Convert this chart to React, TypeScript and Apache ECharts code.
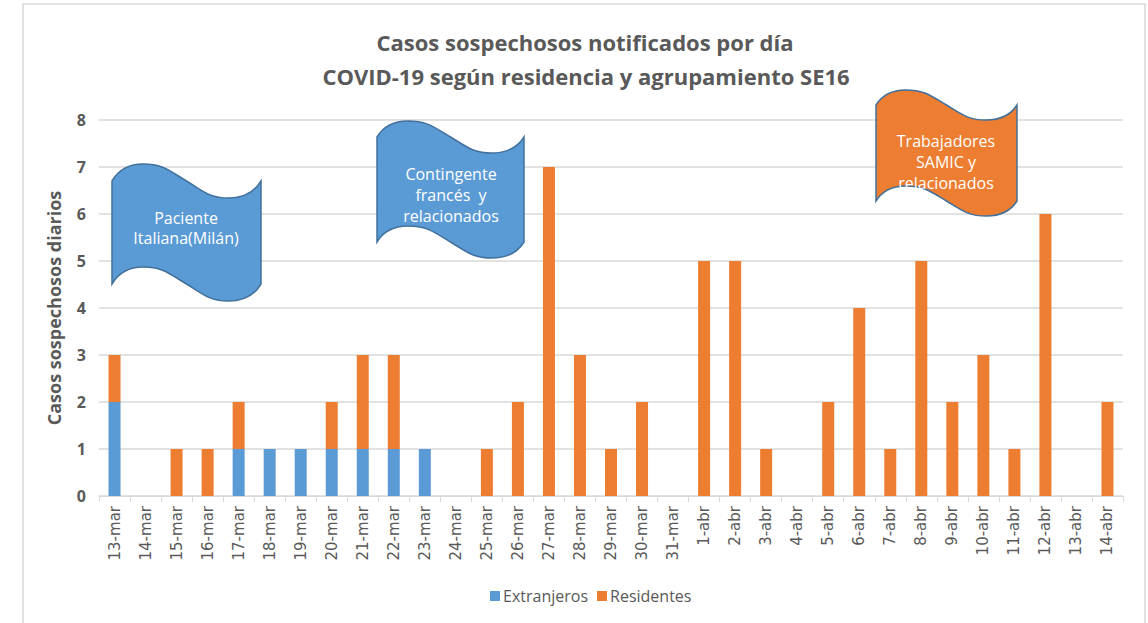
import React, { useEffect, useRef } from "react";
import * as echarts from "echarts";

const categories = [
  "13-mar", "14-mar", "15-mar", "16-mar", "17-mar", "18-mar", "19-mar", "20-mar", "21-mar", "22-mar",
  "23-mar", "24-mar", "25-mar", "26-mar", "27-mar", "28-mar", "29-mar", "30-mar", "31-mar",
  "1-abr", "2-abr", "3-abr", "4-abr", "5-abr", "6-abr", "7-abr", "8-abr", "9-abr", "10-abr",
  "11-abr", "12-abr", "13-abr", "14-abr",
];
const extranjeros = [2, 0, 0, 0, 1, 1, 1, 1, 1, 1, 1, 0, 0, 0, 0, 0, 0, 0, 0, 0, 0, 0, 0, 0, 0, 0, 0, 0, 0, 0, 0, 0, 0];
const residentes = [1, 0, 1, 1, 1, 0, 0, 1, 2, 2, 0, 0, 1, 2, 7, 3, 1, 2, 0, 5, 5, 1, 0, 2, 4, 1, 5, 2, 3, 1, 6, 0, 2];
const yTicks = [0, 1, 2, 3, 4, 5, 6, 7, 8];

const titleLine1 = "Casos sospechosos notificados por día";
const titleLine2 = "COVID-19 según residencia y agrupamiento SE16";
const yAxisName = "Casos sospechosos diarios";
const noteTexts = ["Paciente\nItaliana(Milán)", "Contingente\nfrancés  y\nrelacionados", "Trabajadores\nSAMIC y\nrelacionados"];

type P = [number, number];
type Seg = [P, P, P, P];

function waveSegs(x0: number, y0: number, w: number, a: number): Seg[] {
  const x1 = x0 + w;
  const xp = x0 + 0.21 * w;
  const xt = x0 + 0.78 * w;
  const m = x0 + 0.5 * w;
  const s = 0.6;
  const q1 = 0.4 * (m - xp);
  const q2 = 0.4 * (xt - m);
  return [
    [[x0, y0], [x0 + 0.04 * w, y0 - 0.6 * a], [xp - 0.5 * (xp - x0), y0 - a], [xp, y0 - a]],
    [[xp, y0 - a], [xp + 0.45 * (m - xp), y0 - a], [m - q1, y0 - q1 * s], [m, y0]],
    [[m, y0], [m + q2, y0 + q2 * s], [xt - 0.45 * (xt - m), y0 + a], [xt, y0 + a]],
    [[xt, y0 + a], [xt + 0.5 * (x1 - xt), y0 + a], [x1 - 0.04 * w, y0 + 0.6 * a], [x1, y0]],
  ];
}

function tapePath(x0: number, y0: number, w: number, h: number, a: number) {
  const top = waveSegs(x0, y0, w, a);
  const bottom = waveSegs(x0, y0 + h, w, a)
    .reverse()
    .map((sg) => [sg[3], sg[2], sg[1], sg[0]] as Seg);
  const c = (sg: Seg) => `C${sg[1][0]},${sg[1][1]} ${sg[2][0]},${sg[2][1]} ${sg[3][0]},${sg[3][1]}`;
  return [
    `M${x0},${y0}`,
    ...top.map(c),
    `L${x0 + w},${y0 + h}`,
    ...bottom.map(c),
    "Z",
  ].join(" ");
}

echarts.graphic.registerShape("tape1", echarts.graphic.extendPath(tapePath(112, 181, 149, 103, 17), {}));
echarts.graphic.registerShape("tape2", echarts.graphic.extendPath(tapePath(377, 137, 147, 105, 16), {}));
echarts.graphic.registerShape("tape3", echarts.graphic.extendPath(tapePath(876, 105, 141, 96, 15), {}));

const FONT = '"Open Sans", sans-serif';
const GREY = "#595959";
const BLUE = "#5B9BD5";
const ORANGE = "#ED7D31";

export default function App() {
  const ref = useRef<HTMLDivElement>(null);
  useEffect(() => {
    if (!ref.current) return;
    const chart = echarts.init(ref.current, undefined, { renderer: "svg" });
    chart.setOption({
      animation: false,
      backgroundColor: "#ffffff",
      grid: { left: 99, right: 25, top: 120, bottom: 127, containLabel: false },
      legend: {
        data: ["Extranjeros", "Residentes"],
        bottom: 14,
        left: 485,
        itemWidth: 10,
        itemHeight: 10,
        itemGap: 9,
        icon: "rect",
        textStyle: { color: GREY, fontSize: 16, fontFamily: FONT, padding: [0, 0, 0, -2] },
      },
      xAxis: {
        type: "category",
        data: categories,
        axisLine: { lineStyle: { color: "#d9d9d9", width: 1 } },
        axisTick: { show: true, length: 6, lineStyle: { color: "#d9d9d9" } },
        axisLabel: {
          rotate: 90,
          interval: 0,
          color: GREY,
          fontSize: 15,
          margin: 10,
          fontFamily: "DejaVu Sans",
        },
      },
      yAxis: {
        type: "value",
        min: 0,
        max: 8,
        interval: 1,
        name: yAxisName,
        nameLocation: "middle",
        nameGap: 36,
        nameTextStyle: { color: GREY, fontSize: 18, fontWeight: "bold", fontFamily: FONT },
        axisLine: { show: false },
        axisTick: { show: false },
        axisLabel: {
          color: GREY,
          fontSize: 16,
          fontWeight: "bold",
          margin: 13,
          fontFamily: FONT,
          formatter: (v: number) => (yTicks.includes(v) ? String(v) : ""),
        },
        splitLine: { lineStyle: { color: "#d9d9d9", width: 1.5 } },
      },
      series: [
        {
          name: "Extranjeros",
          type: "bar",
          stack: "total",
          data: extranjeros,
          barWidth: 12,
          itemStyle: { color: BLUE },
        },
        {
          name: "Residentes",
          type: "bar",
          stack: "total",
          data: residentes,
          barWidth: 12,
          itemStyle: { color: ORANGE },
        },
      ],
      graphic: [
        {
          type: "rect",
          z: 0,
          silent: true,
          shape: { x: 23, y: 4, width: 1122, height: 640 },
          style: { fill: "none", stroke: "#d9d9d9", lineWidth: 1.5 },
        },
        {
          type: "text",
          x: 585,
          y: 42,
          z: 100,
          style: { text: titleLine1, align: "center", verticalAlign: "middle", fill: GREY, font: `bold 22px ${FONT}` },
        },
        {
          type: "text",
          x: 586,
          y: 76,
          z: 100,
          style: { text: titleLine2, align: "center", verticalAlign: "middle", fill: GREY, font: `bold 22px ${FONT}` },
        },
        { type: "tape1", z: 100, style: { fill: BLUE, stroke: "#41719C", lineWidth: 1.5 } },
        { type: "tape2", z: 100, style: { fill: BLUE, stroke: "#41719C", lineWidth: 1.5 } },
        { type: "tape3", z: 100, style: { fill: ORANGE, stroke: "#41719C", lineWidth: 1.5 } },
        {
          type: "text",
          x: 186,
          y: 228,
          z: 101,
          style: { text: noteTexts[0], align: "center", verticalAlign: "middle", fill: "#ffffff", font: `16px ${FONT}`, lineHeight: 20 },
        },
        {
          type: "text",
          x: 451,
          y: 195,
          z: 101,
          style: { text: noteTexts[1], align: "center", verticalAlign: "middle", fill: "#ffffff", font: `16px ${FONT}`, lineHeight: 21 },
        },
        {
          type: "text",
          x: 946,
          y: 162,
          z: 101,
          style: { text: noteTexts[2], align: "center", verticalAlign: "middle", fill: "#ffffff", font: `16px ${FONT}`, lineHeight: 21 },
        },
      ],
    });
    return () => chart.dispose();
  }, []);
  return <div ref={ref} style={{ position: "absolute", left: 0, top: 0, width: 1148, height: 623 }} />;
}
